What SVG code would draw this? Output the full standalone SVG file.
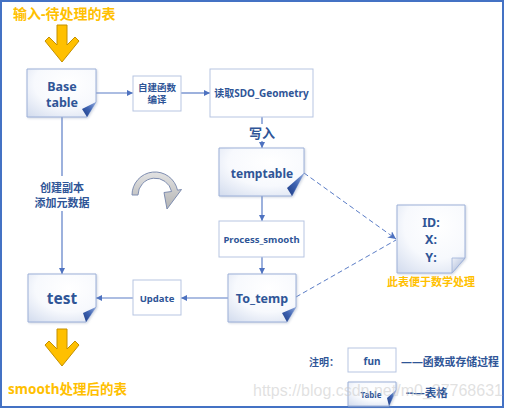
<svg xmlns="http://www.w3.org/2000/svg" width="508" height="409" viewBox="0 0 508 409">
<defs>
<radialGradient id="nodeFill" cx="0.6" cy="0.3" r="0.9">
<stop offset="0" stop-color="#FFFFFF"/>
<stop offset="0.55" stop-color="#F7F9FD"/>
<stop offset="1" stop-color="#D3DCEE"/>
</radialGradient>
<linearGradient id="curlDark" x1="1" y1="0" x2="0" y2="1">
<stop offset="0" stop-color="#8FA8DC"/>
<stop offset="0.5" stop-color="#3D62B0"/>
<stop offset="1" stop-color="#1E3C85"/>
</linearGradient>
<linearGradient id="curlLight" x1="0" y1="0" x2="1" y2="1">
<stop offset="0" stop-color="#EEF1F8"/>
<stop offset="1" stop-color="#9FB0D4"/>
</linearGradient>
<linearGradient id="grayArc" x1="0" y1="0" x2="0" y2="1">
<stop offset="0" stop-color="#E2E2E2"/>
<stop offset="1" stop-color="#B4B4B4"/>
</linearGradient>
<filter id="sh" x="-10%" y="-10%" width="130%" height="130%">
<feDropShadow dx="1" dy="1" stdDeviation="0.8" flood-color="#8090B0" flood-opacity="0.35"/>
</filter>
<marker id="arr" viewBox="0 0 10 10" refX="10" refY="5" markerWidth="6" markerHeight="6" markerUnits="userSpaceOnUse" orient="auto">
<path d="M0,0 L10,5 L0,10 Z" fill="#4E72C0"/>
</marker>
<marker id="arrD" viewBox="0 0 10 10" refX="10" refY="5" markerWidth="8" markerHeight="8" markerUnits="userSpaceOnUse" orient="auto">
<path d="M0,0 L10,5 L0,10 L3,5 Z" fill="#4E72C0"/>
</marker>
<style>
.box{fill:url(#nodeFill);stroke:#9CB0D8;stroke-width:1;filter:url(#sh);}
.plain{fill:#FFFFFF;stroke:#B7C5E2;stroke-width:1;}
.curl{fill:url(#curlDark);}
.curlL{fill:url(#curlLight);stroke:#9CB0D8;stroke-width:0.8;}
.t{font-family:"Noto Sans","Noto Sans CJK SC",sans-serif;font-weight:bold;fill:#2F5597;text-anchor:middle;}
.tl{font-family:"Noto Sans","Noto Sans CJK SC",sans-serif;font-weight:bold;fill:#2F5597;}
.y{font-family:"Noto Sans","Noto Sans CJK SC",sans-serif;font-weight:bold;fill:#FFC000;}
.c{fill:none;stroke:#5B7DC6;stroke-width:1.2;}
.d{fill:none;stroke:#5B7DC6;stroke-width:1;stroke-dasharray:5,3;}
.ya{fill:#FFC000;stroke:#C49000;stroke-width:1;}
</style>
</defs>

<rect x="0" y="0" width="508" height="409" fill="#FFFFFF"/>
<rect x="1" y="1" width="502" height="406" fill="none" stroke="#4472C4" stroke-width="2"/>

<!-- titles and yellow arrows -->
<g id="input-label">
<text class="y" x="13" y="19" font-size="14">输入-待处理的表</text>
<path class="ya" d="M57,25 H67 V45 L75,37 L79,41 L62,62 L45,41 L49,37 L57,45 Z"/>
</g>
<g id="output-label">
<path class="ya" d="M57,329 H67 V349 L75,341 L79,345 L62,366 L45,345 L49,341 L57,349 Z"/>
<text class="y" x="8" y="394" font-size="13.5">smooth处理后的表</text>
</g>

<!-- connectors -->
<g id="connectors">
<line class="c" x1="96" y1="93" x2="133" y2="93" marker-end="url(#arr)"/>
<line class="c" x1="181" y1="93" x2="210" y2="93" marker-end="url(#arr)"/>
<line class="c" x1="262" y1="117" x2="262" y2="124"/>
<line class="c" x1="262" y1="141" x2="262" y2="148" marker-end="url(#arr)"/>
<text class="t" x="262" y="137.5" font-size="13">写入</text>
<line class="c" x1="262" y1="196" x2="262" y2="221" marker-end="url(#arr)"/>
<line class="c" x1="262" y1="257" x2="262" y2="274" marker-end="url(#arr)"/>
<line class="c" x1="228" y1="298" x2="181" y2="298" marker-end="url(#arr)"/>
<line class="c" x1="133" y1="298" x2="96" y2="298" marker-end="url(#arr)"/>
<line class="c" x1="62" y1="117" x2="62" y2="176"/>
<line class="c" x1="62" y1="211" x2="62" y2="274" marker-end="url(#arr)"/>
<text class="t" x="62" y="192" font-size="11">创建副本</text>
<text class="t" x="62" y="207" font-size="11">添加元数据</text>
<line class="d" x1="304" y1="173" x2="396" y2="239" marker-end="url(#arrD)"/>
<line class="d" x1="296" y1="297" x2="396" y2="240"/>
</g>

<!-- nodes -->
<g id="base-table">
<path class="box" d="M27,69 H96 V102 L87,117 H27 Z"/>
<path class="curl" d="M96,102 L82,109 L87,117 Z"/>
<text class="t" x="62" y="90.5" font-size="12.5">Base</text>
<text class="t" x="62" y="106.5" font-size="12.5">table</text>
</g>

<g id="func-compile">
<rect class="plain" x="133" y="76" width="48" height="35"/>
<text class="t" x="157" y="90.5" font-size="9.5">自建函数</text>
<text class="t" x="157" y="102.5" font-size="9.5">编译</text>
</g>

<g id="read-sdo">
<rect class="plain" x="210" y="69" width="103" height="48"/>
<text class="t" x="261.5" y="96.5" font-size="10">读取SDO_Geometry</text>
</g>

<g id="temptable">
<path class="box" d="M219,148 H304 V173 L292,196 H219 Z"/>
<path class="curl" d="M304,173 L287,188 L292,196 Z"/>
<text class="t" x="262" y="177.5" font-size="12">temptable</text>
</g>

<g id="process-smooth">
<rect class="plain" x="219" y="221" width="85" height="36"/>
<text class="t" x="261.5" y="242.5" font-size="9.5">Process_smooth</text>
</g>

<g id="to-temp">
<path class="box" d="M228,274 H296 V307 L287,322 H228 Z"/>
<path class="curl" d="M296,307 L282,313 L287,322 Z"/>
<text class="t" x="262" y="302.5" font-size="12.5">To_temp</text>
</g>

<g id="update">
<rect class="plain" x="133" y="280" width="48" height="35"/>
<text class="t" x="157" y="301.5" font-size="9.5">Update</text>
</g>

<g id="test">
<path class="box" d="M28,274 H96 V307 L86,322 H28 Z"/>
<path class="curl" d="M96,307 L83,313 L86,322 Z"/>
<text class="t" x="62" y="303.5" font-size="15.5">test</text>
</g>

<g id="id-xy">
<path class="box" d="M397,205 H465 V258 L452,273 H397 Z"/>
<path class="curlL" d="M465,258 L452,258 L452,273 Z"/>
<text class="t" x="431" y="226.5" font-size="12.5">ID:</text>
<text class="t" x="431" y="243.5" font-size="12.5">X:</text>
<text class="t" x="431" y="261.5" font-size="12.5">Y:</text>
<text class="y" x="431" y="286" font-size="11" text-anchor="middle" font-weight="normal">此表便于数学处理</text>
</g>

<!-- rotate symbol -->
<g id="cycle-arrow">
<path d="M132,195 A23,23 0 0 1 177.5,190.2 L181.5,189.5 L167,209 L164,192.5 L171.6,191.5 A17,17 0 0 0 138,195 Z" fill="url(#grayArc)" stroke="#7E8DB0" stroke-width="1"/>
</g>

<!-- legend -->
<g id="legend">
<text class="tl" x="309" y="366" font-size="10">注明：</text>
<rect class="plain" x="348" y="348" width="48" height="24"/>
<text class="t" x="372" y="364.5" font-size="10">fun</text>
<text class="tl" x="401" y="366" font-size="11" textLength="98" lengthAdjust="spacingAndGlyphs">——函数或存储过程</text>
<path class="box" d="M348,382 H396 V390 L389,406 H348 Z"/>
<path class="curl" d="M396,390 L387,398 L389,406 Z"/>
<text class="t" x="371" y="397.5" font-size="8">Table</text>
<text class="tl" x="406" y="397" font-size="11.5">--—表格</text>
</g>

<text x="253" y="396" font-family="Liberation Sans, sans-serif" font-size="16" fill="#C8C8C8" fill-opacity="0.55">https://blog.csdn.net/m0_37768631</text>
</svg>
